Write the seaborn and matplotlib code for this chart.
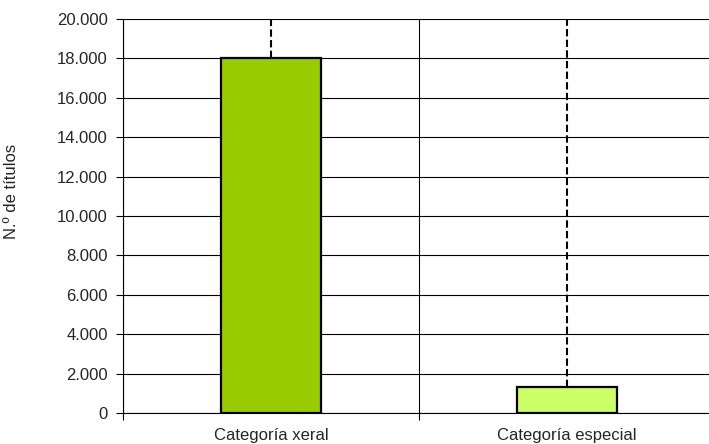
import matplotlib
matplotlib.use("Agg")
import matplotlib.pyplot as plt
import matplotlib.ticker as mticker
import seaborn as sns

categorias = ["Categoría xeral", "Categoría especial"]
titulos = [18000, 1300]
cores = ["#99CC00", "#CCFF66"]
y_max = 20000

sns.set_style("white")
plt.rcParams["font.family"] = ["Liberation Sans", "DejaVu Sans"]

fig = plt.figure(figsize=(7.09, 4.44), dpi=100)
ax = fig.add_axes([123 / 709, 31 / 444, 592 / 709, 394 / 444])

sns.barplot(x=categorias, y=titulos, hue=categorias, palette=cores,
            legend=False, width=0.34, edgecolor="black", linewidth=1.6,
            saturation=1, ax=ax)

# liñas discontinuas desde o alto da barra ata o máximo do eixo
ax.vlines(range(len(categorias)), titulos, y_max, colors="black",
          linestyles=(0, (3.5, 1.6)), linewidth=1.5, zorder=1)

ax.set_xlim(-0.5, len(categorias) - 0.5)
ax.set_ylim(0, y_max)
ax.yaxis.set_major_locator(mticker.MultipleLocator(2000))
ax.yaxis.set_major_formatter(
    mticker.FuncFormatter(lambda v, p: f"{int(v):,}".replace(",", ".")))
ax.grid(axis="y", color="black", linewidth=0.8)
ax.set_axisbelow(True)

# separadores entre categorías
ax.xaxis.set_minor_locator(mticker.FixedLocator([-0.5, 0.5, 1.5]))
ax.grid(axis="x", which="minor", color="black", linewidth=0.8)
ax.tick_params(axis="x", which="minor", length=5, width=0.8, color="black",
               direction="out", bottom=True)
ax.tick_params(axis="x", which="major", length=0, labelsize=12, pad=11)
ax.tick_params(axis="y", length=5, width=0.8, color="black", direction="out",
               left=True, labelsize=12, pad=6)

for lado in ["top", "right"]:
    ax.spines[lado].set_visible(False)
ax.spines["left"].set_color("black")
ax.spines["bottom"].set_color("black")
ax.spines["left"].set_linewidth(0.8)
ax.spines["bottom"].set_linewidth(0.8)

ax.set_xlabel("")
ax.set_ylabel("N.º de títulos", fontsize=12)
ax.yaxis.set_label_coords(-0.175, 0.563)

fig.savefig("out.png", dpi=100)
